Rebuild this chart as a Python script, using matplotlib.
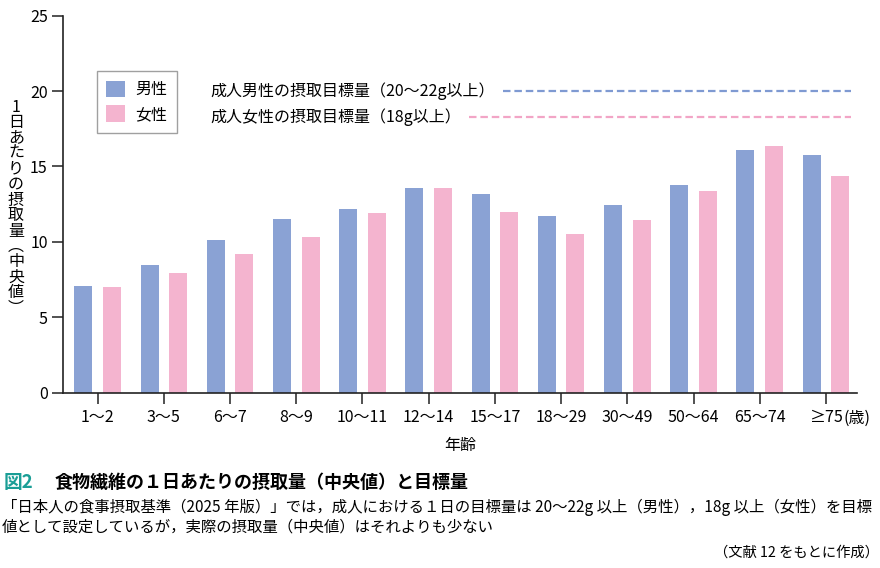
import numpy as np
import matplotlib
matplotlib.use("Agg")
import matplotlib.pyplot as plt

plt.rcParams["font.family"] = ["Noto Sans CJK JP", "DejaVu Sans"]
plt.rcParams["lines.scale_dashes"] = False

# data
age_groups = ["1〜2", "3〜5", "6〜7", "8〜9", "10〜11", "12〜14", "15〜17",
              "18〜29", "30〜49", "50〜64", "65〜74", "≥75"]
age_unit = "(歳)"
male = [7.1, 8.5, 10.1, 11.5, 12.2, 13.55, 13.15, 11.7, 12.45, 13.75, 16.1, 15.75]
female = [7.0, 7.95, 9.2, 10.35, 11.9, 13.55, 11.95, 10.55, 11.45, 13.4, 16.35, 14.35]
target_male = 20.0
target_female = 18.3

male_color = "#8aa2d4"
female_color = "#f4b4cf"
male_line = "#7f9ad2"
female_line = "#f2a5c6"

W, H = 880, 568
fig = plt.figure(figsize=(W / 100, H / 100), dpi=100)
ax = fig.add_axes([63 / W, 1 - 392.7 / H, (856.7 - 63) / W, (392.7 - 15.7) / H])

x = np.arange(len(age_groups))
bw = 0.27
off = 0.216
ax.bar(x - off, male, bw, color=male_color, label="男性")
ax.bar(x + off, female, bw, color=female_color, label="女性")

ax.set_xlim(-0.524, 11.465)
ax.set_ylim(0, 25)
ax.set_yticks([0, 5, 10, 15, 20, 25])
ax.set_xticks(x)
ax.set_xticklabels(age_groups)
ax.tick_params(axis="both", direction="out", length=8, width=1.1, labelsize=11.5, color="#222222")
ax.tick_params(axis="x", pad=4)
ax.tick_params(axis="y", pad=3)
for s in ["top", "right"]:
    ax.spines[s].set_visible(False)
for s in ["left", "bottom"]:
    ax.spines[s].set_linewidth(1.2)
    ax.spines[s].set_color("#222222")

ax.set_xlabel("年齢", fontsize=11.5, labelpad=8)

leg = ax.legend(loc="upper left", bbox_to_anchor=((96.7 - 63) / (856.7 - 63), 1 - (71 - 15.7) / 377),
                fontsize=11.5, frameon=True, fancybox=False, edgecolor="#888888",
                handlelength=1.2, handleheight=1.2, handletextpad=0.6, borderpad=0.6,
                labelspacing=0.45, borderaxespad=0)
leg.get_frame().set_linewidth(1.0)

# target lines with labels
t_m = ax.text(-0.524 + (210.7 - 63) / 66.2, target_male, "成人男性の摂取目標量（20〜22g以上）",
              fontsize=11.5, va="center", ha="left")
t_f = ax.text(-0.524 + (210.7 - 63) / 66.2, target_female, "成人女性の摂取目標量（18g以上）",
              fontsize=11.5, va="center", ha="left")
fig.canvas.draw()
inv = ax.transData.inverted()
line_end = -0.524 + (850.7 - 63) / 66.2
for t, yv, col in [(t_m, target_male, male_line), (t_f, target_female, female_line)]:
    bb = t.get_window_extent()
    x0 = inv.transform((bb.x1 + 8, 0))[0]
    ax.plot([x0, line_end], [yv, yv], color=col, lw=1.6, linestyle=(0, (5.4, 2.8)),
            clip_on=False)

# unit after the last tick label
last = ax.get_xticklabels()[-1]
bb = last.get_window_extent()
fig.text(bb.x1 / W + 1 / W, (bb.y0 + bb.y1) / 2 / H, age_unit, fontsize=11.5,
         ha="left", va="center")

# vertical y label
ylabel_chars = ["1", "日", "あ", "た", "り", "の", "摂", "取", "量", "︵", "中", "央", "値", "︶"]
for i, ch in enumerate(ylabel_chars):
    fig.text(16 / W, 1 - (107 + i * 15.5) / H, ch, fontsize=11.5, ha="center", va="center")

# caption
fig.text(4 / W, 1 - 482 / H, "図2", fontsize=13.5, fontweight="bold", color="#1a9e96",
         ha="left", va="center")
fig.text(55 / W, 1 - 482 / H, "食物繊維の１日あたりの摂取量（中央値）と目標量", fontsize=13,
         fontweight="bold", ha="left", va="center")
fig.text(2 / W, 1 - 507 / H,
         "「日本人の食事摂取基準（2025 年版）」では，成人における１日の目標量は 20〜22g 以上（男性），18g 以上（女性）を目標",
         fontsize=11.1, ha="left", va="center")
fig.text(2 / W, 1 - 527 / H, "値として設定しているが，実際の摂取量（中央値）はそれよりも少ない",
         fontsize=11.1, ha="left", va="center")
fig.text(879 / W, 1 - 553 / H, "（文献 12 をもとに作成）", fontsize=10.3, ha="right", va="center")

fig.savefig("out.png", dpi=100)
